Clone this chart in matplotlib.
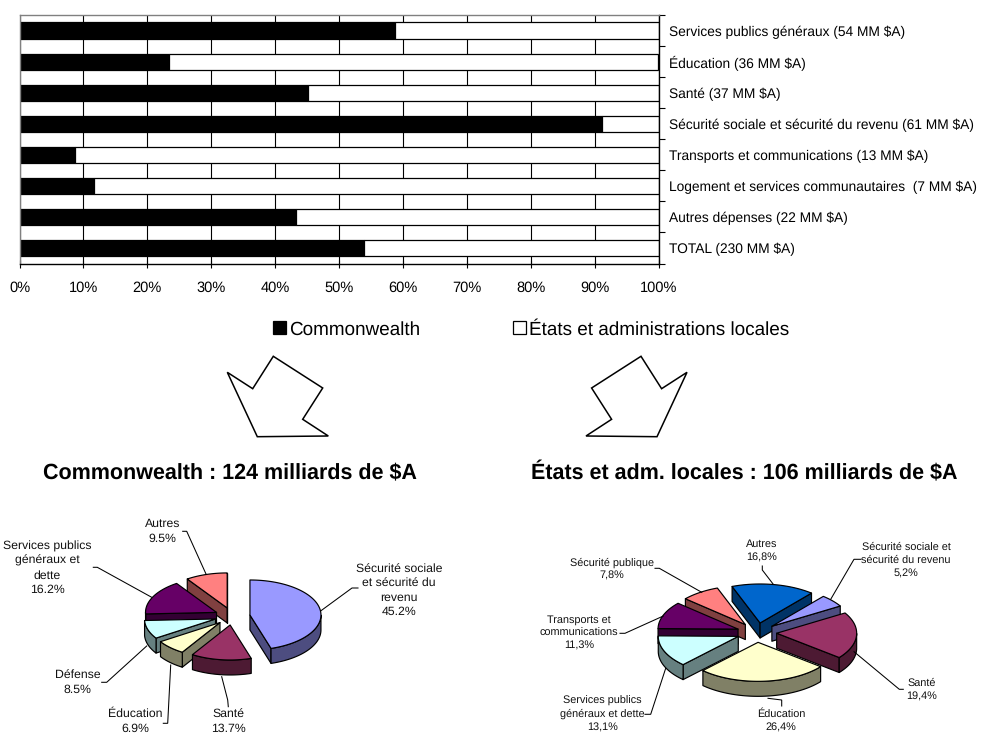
import numpy as np
import matplotlib
matplotlib.use("Agg")
import matplotlib.pyplot as plt
from matplotlib.patches import Polygon

plt.rcParams['font.family'] = ['Liberation Sans', 'DejaVu Sans']
plt.rcParams['text.hinting'] = 'no_hinting'

# Repartition by sector (Commonwealth share, %)
sectors = ["Services publics généraux (54 MM $A)", "Éducation (36 MM $A)", "Santé (37 MM $A)",
           "Sécurité sociale et sécurité du revenu (61 MM $A)", "Transports et communications (13 MM $A)",
           "Logement et services communautaires  (7 MM $A)", "Autres dépenses (22 MM $A)", "TOTAL (230 MM $A)"]
commonwealth = [58.8, 23.4, 45.2, 91.2, 8.7, 11.7, 43.3, 53.9]
etats = [100 - v for v in commonwealth]

# Pies, clockwise from the first slice
cw_shares = [45.2, 13.7, 6.9, 8.5, 16.2, 9.5]
cw_colors = ['#9999FF', '#993366', '#FFFFCC', '#CCFFFF', '#660066', '#FF8080']

etats_shares = [5.2, 19.4, 26.4, 13.1, 11.3, 7.8, 16.8]
etats_colors = ['#9999FF', '#993366', '#FFFFCC', '#CCFFFF', '#660066', '#FF8080', '#0066CC']

W, H = 982, 734
fig = plt.figure(figsize=(W / 100, H / 100), dpi=100, facecolor='w')

# top stacked bars
ax = fig.add_axes([19.5 / W, 1 - 263.5 / H, (658.5 - 19.5) / W, (263.5 - 15) / H])
y_pos = np.arange(len(sectors))
ax.barh(y_pos, commonwealth, height=0.52, color='k', edgecolor='k', linewidth=0.9, label="Commonwealth")
ax.barh(y_pos, etats, height=0.52, left=commonwealth, color='w', edgecolor='k', linewidth=0.9,
        label="États et administrations locales")
ax.set_xlim(0, 100)
ax.set_ylim(len(sectors) - 0.5, -0.5)
ax.set_axisbelow(True)
ax.xaxis.grid(color='k', linewidth=0.8)
ax.set_xticks(np.arange(0, 101, 10))
ax.set_xticklabels(['{}%'.format(x) for x in range(0, 101, 10)], fontsize=10.5)
ax.tick_params(axis='x', direction='inout', length=6, width=0.8, pad=9.5)
ax.yaxis.tick_right()
ax.set_yticks(np.arange(len(sectors) + 1) - 0.5)
ax.set_yticklabels([])
ax.tick_params(axis='y', which='major', length=4, width=0.8)
ax.set_yticks(y_pos, minor=True)
ax.set_yticklabels(sectors, minor=True, fontsize=9.9)
ax.tick_params(axis='y', which='minor', length=0, pad=7.5)
ax.spines['left'].set_color('#808080')
ax.spines['top'].set_color('#808080')
for side in ['left', 'top', 'right', 'bottom']:
    ax.spines[side].set_linewidth(1.0)

fig.legend(*ax.get_legend_handles_labels(), loc='center', bbox_to_anchor=(531 / W, 1 - 329.5 / H),
           ncols=2, frameon=False, fontsize=13.6, handlelength=0.7, handleheight=0.7,
           handletextpad=0.15, columnspacing=4.9, borderpad=0, borderaxespad=0)

# everything below is laid out in pixels
ov = fig.add_axes([0, 0, 1, 1], facecolor='none')
ov.set_xlim(0, W)
ov.set_ylim(H, 0)
ov.axis('off')

arrow = np.array([(227.3, 372.3), (252.7, 388.7), (273.3, 356.3), (322.7, 388),
                  (302.7, 419.3), (328.3, 436), (257.3, 436.7)])
ov.add_patch(Polygon(arrow, closed=True, fc='w', ec='k', lw=1.1))
ov.add_patch(Polygon(np.column_stack((914.3 - arrow[:, 0], arrow[:, 1])), closed=True, fc='w', ec='k', lw=1.1))

ov.text(230, 473, "Commonwealth : 124 milliards de $A", ha='center', va='center', fontsize=15.5, fontweight='bold')
ov.text(744, 473, "États et adm. locales : 106 milliards de $A", ha='center', va='center', fontsize=15.5, fontweight='bold')


def darker(color):
    return tuple(c * 0.5 for c in matplotlib.colors.to_rgb(color))


def draw_pie(shares, colors, cx, cy, a, b, depth, start, explode=0.25):
    edges = start + np.cumsum([0] + shares) * 3.6
    slices = []
    for i, col in enumerate(colors):
        t1, t2 = edges[i], edges[i + 1]
        mid = np.radians((t1 + t2) / 2)
        ax0 = cx + a * explode * np.sin(mid)
        ay0 = cy - b * explode * np.cos(mid)
        slices.append((ay0 - b * 0.5 * np.cos(mid), t1, t2, ax0, ay0, col))
    # back to front
    for _, t1, t2, ax0, ay0, col in sorted(slices, key=lambda s: s[0]):
        th = np.radians(np.linspace(t1, t2, 120))
        xs = ax0 + a * np.sin(th)
        ys = ay0 - b * np.cos(th)
        side = darker(col)
        style = dict(closed=True, ec='k', lw=0.85, joinstyle='round')
        # a cut face only shows when its outward normal points towards the viewer
        for k, normal in [(0, t1 - 90), (-1, t2 + 90)]:
            if np.cos(np.radians(normal)) < 0:
                quad = [(ax0, ay0), (xs[k], ys[k]), (xs[k], ys[k] + depth), (ax0, ay0 + depth)]
                ov.add_patch(Polygon(quad, fc=side, **style))
        front = np.cos(th) <= 0
        if front.any():
            rim = np.vstack((np.column_stack((xs[front], ys[front])),
                             np.column_stack((xs[front], ys[front] + depth))[::-1]))
            ov.add_patch(Polygon(rim, fc=side, **style))
        top = np.vstack(([(ax0, ay0)], np.column_stack((xs, ys))))
        ov.add_patch(Polygon(top, fc=col, **style))


draw_pie(cw_shares, cw_colors, 232.4, 616.3, 71, 35, 15, 0)
draw_pie(etats_shares, etats_colors, 756.7, 632.6, 80, 39, 15, 40)


def label(text, x, y, leader, size):
    ov.text(x, y, text, ha='center', va='center', fontsize=size, linespacing=1.38, color='#111111', clip_on=False)
    pts = np.array(leader)
    ov.plot(pts[:, 0], pts[:, 1], color='k', lw=0.75, solid_joinstyle='miter')


left_size = 8.8
label("Sécurité sociale\net sécurité du\nrevenu\n45.2%", 399, 590.5, [(321, 610.7), (352, 588), (358, 588)], left_size)
label("Santé\n13.7%", 228, 721.5, [(221.7, 676.7), (227.7, 700), (228.3, 706.7)], left_size)
label("Éducation\n6.9%", 135, 721.5, [(163.3, 723.3), (167.7, 723.3), (170.7, 665)], left_size)
label("Défense\n8.5%", 77.7, 682.5, [(101.7, 682.3), (106.7, 682.3), (146.7, 646)], left_size)
label("Services publics\ngénéraux et\ndette\n16.2%", 47.3, 568, [(93.3, 567.3), (97.3, 567.3), (151.7, 597.3)], left_size)
label("Autres\n9.5%", 162.7, 531.5, [(182.7, 531.3), (186.7, 531.3), (206, 574)], left_size)

right_size = 7.8
label("Sécurité sociale et\nsécurité du revenu\n5,2%", 906, 560.2, [(830.7, 599.3), (854, 559.3), (861, 559.3)], right_size)
label("Santé\n19,4%", 921.7, 689.8, [(854, 651.7), (899.3, 689.3), (903.3, 689.3)], right_size)
label("Éducation\n26,4%", 781.3, 721, [(768, 698.3), (781.7, 700), (781.7, 706)], right_size)
label("Services publics\ngénéraux et dette\n13,1%", 602.7, 714, [(645, 714.3), (650.7, 714.3), (665.7, 668.3)], right_size)
label("Transports et\ncommunications\n11,3%", 579.3, 632.8, [(620, 633.3), (625, 633.3), (663.3, 616)], right_size)
label("Sécurité publique\n7,8%", 611.7, 569, [(655, 568.3), (659.3, 568.3), (701.7, 592.3)], right_size)
label("Autres\n16,8%", 762, 550.7, [(762.3, 566), (762.3, 570), (773.3, 584.3)], right_size)

plt.savefig('out.png', dpi=100)
